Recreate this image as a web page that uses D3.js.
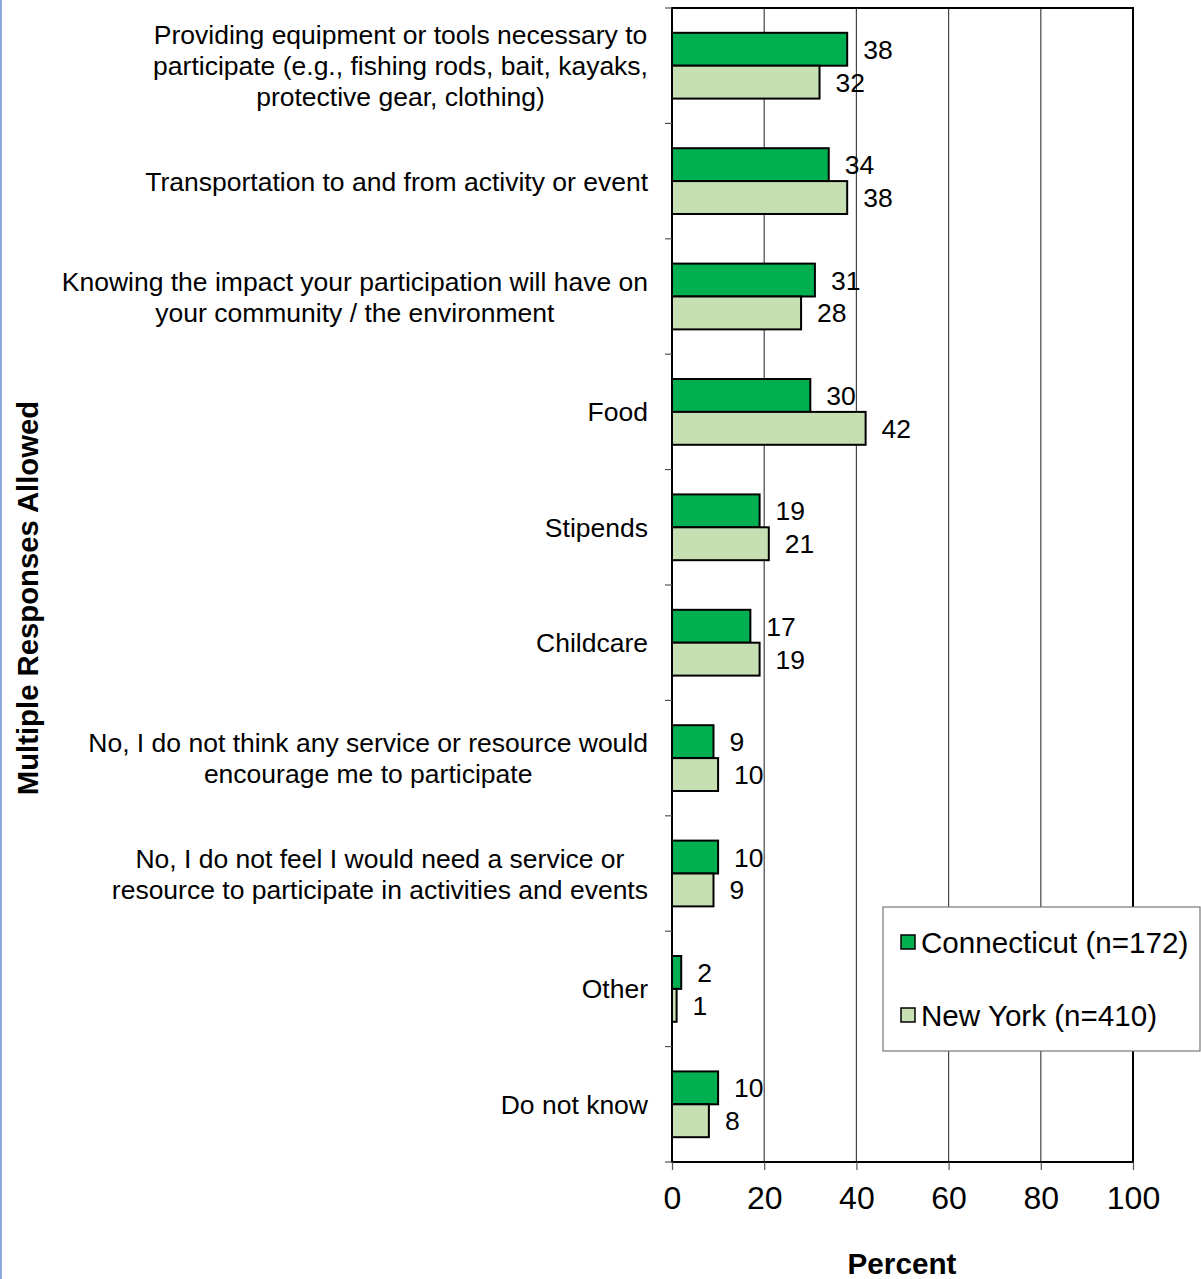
<!DOCTYPE html>
<html><head><meta charset="utf-8">
<script src="https://cdn.jsdelivr.net/npm/d3@7"></script>
<style>body{margin:0;background:#fff;} svg{display:block;font-family:"Liberation Sans",Arial,sans-serif;}</style>
</head><body>
<svg id="chart" width="1201" height="1279"></svg>
<script>
const categories = [
  ["Providing equipment or tools necessary to","participate (e.g., fishing rods, bait, kayaks,","protective gear, clothing)"],
  ["Transportation to and from activity or event"],
  ["Knowing the impact your participation will have on","your community / the environment"],
  ["Food"],
  ["Stipends"],
  ["Childcare"],
  ["No, I do not think any service or resource would","encourage me to participate"],
  ["No, I do not feel I would need a service or","resource to participate in activities and events"],
  ["Other"],
  ["Do not know"]
];
const connecticut = [38,34,31,30,19,17,9,10,2,10];
const newYork = [32,38,28,42,21,19,10,9,1,8];
const seriesNames = ["Connecticut (n=172)","New York (n=410)"];
const xTicks = [0,20,40,60,80,100];

const FONT = "'Liberation Sans', Arial, sans-serif";
const svg = d3.select("#chart");
const L = 672, R = 1133, T = 8, B = 1162;
const x = d3.scaleLinear().domain([0,100]).range([L,R]);
const y = d3.scaleBand().domain(d3.range(categories.length)).range([T,B]).paddingInner(0.43).paddingOuter(0.215);
const sub = d3.scaleBand().domain([0,1]).range([0,y.bandwidth()]);
const colors = ["#00b050","#c6e0b4"];

// left blue edge
svg.append("rect").attr("x",0).attr("y",0).attr("width",2).attr("height",1279).attr("fill","#8eaadb");

// gridlines
svg.append("g").selectAll("line").data(xTicks.filter(d=>d>0&&d<100)).join("line")
  .attr("x1",d=>x(d)).attr("x2",d=>x(d)).attr("y1",T).attr("y2",B)
  .attr("stroke","#444").attr("stroke-width",1.2);

// bars
const series = [connecticut,newYork];
series.forEach((vals,si)=>{
  const g = svg.append("g");
  g.selectAll("rect").data(vals).join("rect")
    .attr("x",x(0)).attr("y",(d,i)=>y(i)+sub(si))
    .attr("width",d=>x(d)-x(0)).attr("height",sub.bandwidth())
    .attr("fill",colors[si]).attr("stroke","#000").attr("stroke-width",2);
  g.selectAll("text").data(vals).join("text")
    .attr("x",d=>x(d)+16).attr("y",(d,i)=>y(i)+sub(si)+sub.bandwidth()/2)
    .attr("dy","0.36em").attr("font-size",26.5).attr("fill","#000").text(d=>d);
});

// frame
svg.append("rect").attr("x",L).attr("y",T).attr("width",R-L).attr("height",B-T)
  .attr("fill","none").attr("stroke","#000").attr("stroke-width",2);

// left ticks (category boundaries)
const bounds = d3.range(categories.length+1).map(i=>T+i*(B-T)/categories.length);
svg.append("g").selectAll("line").data(bounds).join("line")
  .attr("x1",L-7).attr("x2",L).attr("y1",d=>d).attr("y2",d=>d)
  .attr("stroke","#555").attr("stroke-width",1.2);

// bottom axis
const xAxis = svg.append("g").attr("transform",`translate(0,${B})`)
  .call(d3.axisBottom(x).tickValues(xTicks).tickSize(8).tickPadding(16));
xAxis.select(".domain").remove();
xAxis.selectAll(".tick line").attr("stroke","#555").attr("stroke-width",1.2);
xAxis.selectAll(".tick text").attr("font-size",32).attr("font-family",FONT).attr("fill","#000");

// category labels
const labG = svg.append("g");
categories.forEach((lines,i)=>{
  const cy = y(i)+y.bandwidth()/2;
  const lh = 31;
  const t = labG.append("text").attr("font-size",26.5).attr("fill","#000").attr("text-anchor","middle");
  lines.forEach((ln,j)=>{
    t.append("tspan").attr("x",0).attr("y",cy+(j-(lines.length-1)/2)*lh).attr("dy","0.36em").text(ln);
  });
  let maxW = 0;
  t.selectAll("tspan").each(function(){maxW=Math.max(maxW,this.getComputedTextLength());});
  const cx = 648 - maxW/2;
  t.selectAll("tspan").attr("x",cx);
});

// axis titles
svg.append("text").attr("x",902).attr("y",1263).attr("dy","0.36em").attr("text-anchor","middle")
  .attr("font-size",29.7).attr("font-weight","bold").text("Percent");
svg.append("text").attr("transform","translate(27,598) rotate(-90)").attr("dy","0.36em").attr("text-anchor","middle")
  .attr("font-size",29.3).attr("font-weight","bold").text("Multiple Responses Allowed");

// legend
const lg = svg.append("g");
lg.append("rect").attr("x",883).attr("y",907).attr("width",317).attr("height",144)
  .attr("fill","#fff").attr("stroke","#777").attr("stroke-width",1.2);
seriesNames.forEach((nm,i)=>{
  const cy = 942 + i*73;
  lg.append("rect").attr("x",901).attr("y",cy-7).attr("width",14).attr("height",14)
    .attr("fill",colors[i]).attr("stroke","#000").attr("stroke-width",1.5);
  lg.append("text").attr("x",921).attr("y",cy).attr("dy","0.36em").attr("font-size",29.6).text(nm);
});
</script>
</body></html>
